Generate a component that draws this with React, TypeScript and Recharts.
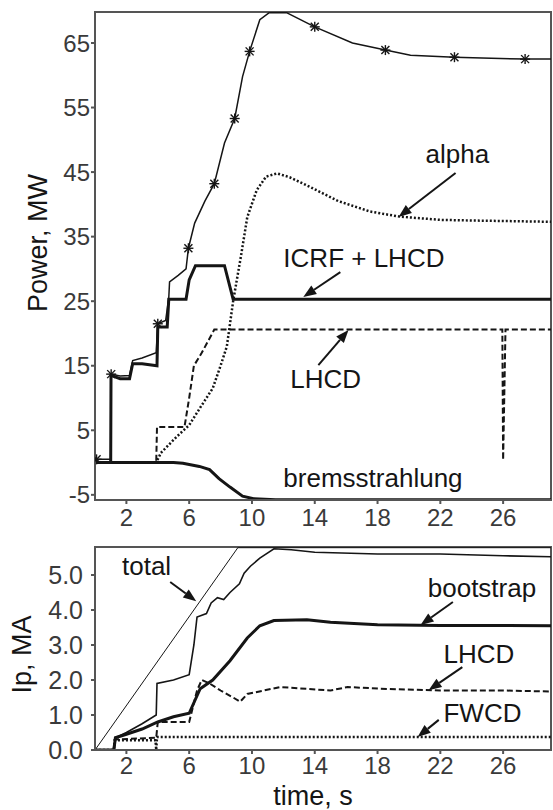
import { LineChart, Line, XAxis, YAxis, ReferenceArea, ReferenceLine, ReferenceDot } from 'recharts';

const TIME_TICKS = [2, 6, 10, 14, 18, 22, 26];
const POWER_TICKS = [-5, 5, 15, 25, 35, 45, 55, 65];
const IP_TICKS = [0, 1, 2, 3, 4, 5];

// upper panel, power in MW vs time in s
const totalT = [0.1, 1.0, 1.03, 1.6, 2.2, 2.4, 3.0, 3.9, 4.0, 4.5, 4.7, 4.75, 5.3, 5.8, 5.95, 6.35, 7.0, 7.6, 8.25, 8.9, 9.4, 9.85, 10.5, 11.1, 12.2, 14.0, 16.4, 18.5, 20.1, 22.9, 27.4, 29.05];
const totalP = [0.5, 0.5, 13.7, 13.4, 13.5, 15.8, 16.2, 17.0, 21.5, 22.0, 25.5, 28.0, 29.0, 30.0, 33.2, 37.1, 40.5, 43.2, 49.5, 53.3, 59.8, 63.7, 68.6, 69.7, 69.7, 67.5, 65.0, 63.9, 63.1, 62.8, 62.5, 62.5];
const totalMarkT = [0.1, 1.03, 4.0, 5.95, 7.6, 8.9, 9.85, 14.0, 18.5, 22.9, 27.4];

const icrfT = [0, 1.0, 1.02, 1.6, 2.2, 2.4, 3.0, 3.95, 4.0, 4.6, 4.7, 5.8, 6.0, 6.4, 8.25, 8.8, 29.05];
const icrfP = [0, 0, 13.5, 13.0, 13.0, 15.3, 15.3, 15.0, 21.0, 21.0, 25.3, 25.3, 28.3, 30.5, 30.5, 25.3, 25.3];

const lhPowT = [0, 3.9, 3.95, 5.7, 6.0, 6.3, 6.8, 7.6, 25.95, 26.0, 26.15, 29.05];
const lhPowP = [0, 0, 5.5, 5.5, 10, 15, 17, 20.6, 20.6, 0.4, 20.6, 20.6];

const alphaT = [0, 3.9, 4.2, 5.2, 6.0, 6.7, 7.5, 8.0, 8.4, 8.8, 9.3, 9.7, 10.3, 10.9, 11.6, 12.4, 13.7, 15.5, 17.5, 19.4, 22.0, 24.0, 29.05];
const alphaP = [0, 0, 1.5, 4.0, 5.8, 8.5, 11.5, 15.0, 18.0, 25.0, 32.0, 38.0, 42.2, 44.3, 44.8, 44.2, 42.7, 40.5, 38.9, 38.1, 37.6, 37.5, 37.3];

const bremT = [0, 5.0, 5.6, 6.65, 7.3, 7.9, 8.6, 9.4, 10.1, 11.5, 29.05];
const bremP = [0, 0, -0.1, -0.6, -1.1, -2.5, -3.8, -5.2, -5.6, -5.75, -5.75];

// lower panel, plasma current in MA vs time in s
const ipTotT = [0, 9.1, 29.05];
const ipTotI = [0, 5.78, 5.78];

const ipSumT = [0, 1.2, 1.3, 2.0, 3.0, 3.9, 3.95, 5.0, 6.0, 6.3, 6.5, 7.1, 7.4, 7.8, 8.2, 8.6, 9.2, 9.5, 9.9, 10.5, 11.4, 12.5, 14, 18, 22, 26, 29.05];
const ipSumI = [0, 0, 0.35, 0.5, 0.75, 1.0, 1.9, 2.0, 2.15, 3.0, 3.8, 3.9, 4.2, 4.35, 4.3, 4.5, 4.75, 5.05, 5.25, 5.48, 5.75, 5.72, 5.65, 5.6, 5.6, 5.55, 5.52];

const bootT = [0, 1.2, 1.3, 2, 3, 4, 5, 6, 6.7, 7.5, 8.6, 9.7, 10.5, 11.4, 13.5, 15, 18, 22, 29.05];
const bootI = [0, 0, 0.35, 0.45, 0.6, 0.8, 0.95, 1.05, 1.75, 2.0, 2.55, 3.2, 3.55, 3.7, 3.72, 3.65, 3.58, 3.56, 3.55];

const lhCurT = [0, 1.2, 1.3, 3.9, 4.0, 6.0, 6.5, 6.8, 7.3, 8.0, 8.8, 9.25, 9.7, 11.8, 15, 16.1, 18.2, 22, 26, 29.05];
const lhCurI = [0, 0, 0.3, 0.35, 0.8, 0.8, 1.7, 2.0, 1.9, 1.7, 1.5, 1.38, 1.6, 1.8, 1.7, 1.8, 1.75, 1.7, 1.7, 1.67];

const fwT = [0, 1.2, 1.25, 3.85, 3.9, 3.95, 29.05];
const fwI = [0, 0, 0.28, 0.28, 0, 0.37, 0.37];

const T_MAX = 29.05;
const P_DOMAIN: [number, number] = [-5.8, 69.8];
const I_DOMAIN: [number, number] = [0, 5.8];

const FONT = '"Liberation Sans", Arial, sans-serif';
const INK = '#151515';
const FRAME = '#555';

const zip = (t: number[], y: number[]) => t.map((v, i) => ({ t: v, y: y[i] }));

// annotation labels and arrows, in data units
const powerNotes = [
  { text: 'alpha', t: 21.06, y: 46.4 },
  { text: 'ICRF + LHCD', t: 12.0, y: 30.3 },
  { text: 'LHCD', t: 12.44, y: 11.55 },
  { text: 'bremsstrahlung', t: 12.0, y: -3.79 },
];
const powerArrows = [
  { from: [22.97, 44.86], to: [19.34, 38.04] },
  { from: [15.63, 29.5], to: [13.27, 25.65] },
  { from: [14.23, 15.1], to: [16.15, 20.54] },
];
const ipNotes = [
  { text: 'total', t: 1.72, y: 5.0 },
  { text: 'bootstrap', t: 21.2, y: 4.37 },
  { text: 'LHCD', t: 22.2, y: 2.49 },
  { text: 'FWCD', t: 22.2, y: 0.8 },
];
const ipArrows = [
  { from: [4.79, 4.8], to: [6.45, 4.25] },
  { from: [22.8, 4.23], to: [20.74, 3.57] },
  { from: [23.4, 2.37], to: [21.25, 1.71] },
  { from: [21.9, 0.86], to: [20.55, 0.37] },
];

const Arrow = (props: any) => {
  const { x1, y1, x2, y2 } = props;
  const a = Math.atan2(y2 - y1, x2 - x1);
  const L = 13;
  const W = 5;
  const bx = x2 - L * Math.cos(a);
  const by = y2 - L * Math.sin(a);
  const px = -Math.sin(a) * W;
  const py = Math.cos(a) * W;
  return (
    <g>
      <line x1={x1} y1={y1} x2={bx} y2={by} stroke={INK} strokeWidth={2} />
      <polygon points={`${x2},${y2} ${bx + px},${by + py} ${bx - px},${by - py}`} fill={INK} />
    </g>
  );
};

const Star = ({ cx, cy }: { cx: number; cy: number }) => (
  <g stroke={INK} strokeWidth={1.4}>
    <line x1={cx - 5} y1={cy} x2={cx + 5} y2={cy} />
    <line x1={cx} y1={cy - 5} x2={cx} y2={cy + 5} />
    <line x1={cx - 4} y1={cy - 4} x2={cx + 4} y2={cy + 4} />
    <line x1={cx - 4} y1={cy + 4} x2={cx + 4} y2={cy - 4} />
  </g>
);

const YTitle = (props: any) => {
  const { viewBox, text, titleX, shiftY } = props;
  const cy = viewBox.y + viewBox.height / 2 + shiftY;
  return (
    <text
      x={titleX}
      y={cy}
      transform={`rotate(-90 ${titleX} ${cy})`}
      textAnchor="middle"
      dominantBaseline="central"
      fontFamily={FONT}
      fontSize={27}
      fill={INK}
    >
      {text}
    </text>
  );
};

const note = (n: { text: string; t: number; y: number }) => (
  <ReferenceDot
    key={n.text + n.t}
    x={n.t}
    y={n.y}
    r={0}
    ifOverflow="visible"
    shape={(p: any) => (
      <text x={p.cx} y={p.cy} fontFamily={FONT} fontSize={26} fill={INK}>
        {n.text}
      </text>
    )}
  />
);

const arrow = (a: { from: number[]; to: number[] }, i: number) => (
  <ReferenceLine
    key={'arr' + i}
    segment={[
      { x: a.from[0], y: a.from[1] },
      { x: a.to[0], y: a.to[1] },
    ]}
    ifOverflow="visible"
    shape={Arrow}
  />
);

const tickStyle = { fontFamily: FONT, fontSize: 24, fill: '#3a3a3a' };

export default function App() {
  return (
    <div style={{ position: 'absolute', left: 0, top: 0, width: 553, height: 810, background: '#fff' }}>
      <LineChart width={553} height={535} margin={{ top: 12, right: 2, bottom: 0, left: 0 }}>
        <XAxis
          type="number"
          dataKey="t"
          domain={[0, T_MAX]}
          ticks={TIME_TICKS}
          allowDataOverflow
          height={35}
          tickSize={4}
          tickMargin={5}
          tick={tickStyle}
          stroke={FRAME}
          strokeWidth={2}
        />
        <YAxis
          type="number"
          domain={P_DOMAIN}
          ticks={POWER_TICKS}
          allowDataOverflow
          width={95}
          tickSize={4}
          tickMargin={1}
          tick={tickStyle}
          stroke={FRAME}
          strokeWidth={2}
          label={<YTitle text="Power, MW" titleX={38} shiftY={-13} />}
        />
        <ReferenceArea x1={0} x2={T_MAX} y1={P_DOMAIN[0]} y2={P_DOMAIN[1]} fill="none" stroke={FRAME} strokeWidth={2} />
        <Line data={zip(bremT, bremP)} dataKey="y" stroke={INK} strokeWidth={3} dot={false} isAnimationActive={false} />
        <Line data={zip(alphaT, alphaP)} dataKey="y" stroke={INK} strokeWidth={2.5} strokeDasharray="2 2" dot={false} isAnimationActive={false} />
        <Line data={zip(lhPowT, lhPowP)} dataKey="y" stroke={INK} strokeWidth={2} strokeDasharray="6 3" dot={false} isAnimationActive={false} />
        <Line data={zip(icrfT, icrfP)} dataKey="y" stroke={INK} strokeWidth={3} dot={false} isAnimationActive={false} />
        <Line
          data={zip(totalT, totalP)}
          dataKey="y"
          stroke={INK}
          strokeWidth={1.5}
          isAnimationActive={false}
          dot={(p: any) =>
            totalMarkT.includes(p.payload.t) ? <Star key={'s' + p.index} cx={p.cx} cy={p.cy} /> : <g key={'s' + p.index} />
          }
        />
        {powerArrows.map(arrow)}
        {powerNotes.map(note)}
      </LineChart>
      <LineChart width={553} height={275} margin={{ top: 12, right: 2, bottom: 0, left: 0 }}>
        <XAxis
          type="number"
          dataKey="t"
          domain={[0, T_MAX]}
          ticks={TIME_TICKS}
          allowDataOverflow
          height={60}
          tickSize={4}
          tickMargin={3}
          tick={tickStyle}
          stroke={FRAME}
          strokeWidth={2}
          label={{ value: 'time, s', position: 'insideBottom', offset: 5, dx: -10, fontFamily: FONT, fontSize: 27, fill: INK }}
        />
        <YAxis
          type="number"
          domain={I_DOMAIN}
          ticks={IP_TICKS}
          allowDataOverflow
          width={95}
          tickSize={4}
          tickMargin={8}
          tick={{ ...tickStyle, fontSize: 25 }}
          tickFormatter={(v: number) => v.toFixed(1)}
          stroke={FRAME}
          strokeWidth={2}
          label={<YTitle text="Ip, MA" titleX={22} shiftY={6} />}
        />
        <ReferenceArea x1={0} x2={T_MAX} y1={I_DOMAIN[0]} y2={I_DOMAIN[1]} fill="none" stroke={FRAME} strokeWidth={2} />
        <Line data={zip(fwT, fwI)} dataKey="y" stroke={INK} strokeWidth={2.5} strokeDasharray="2 2" dot={false} isAnimationActive={false} />
        <Line data={zip(lhCurT, lhCurI)} dataKey="y" stroke={INK} strokeWidth={2} strokeDasharray="6 3" dot={false} isAnimationActive={false} />
        <Line data={zip(bootT, bootI)} dataKey="y" stroke={INK} strokeWidth={3} dot={false} isAnimationActive={false} />
        <Line data={zip(ipSumT, ipSumI)} dataKey="y" stroke={INK} strokeWidth={1.6} dot={false} isAnimationActive={false} />
        <Line data={zip(ipTotT, ipTotI)} dataKey="y" stroke={INK} strokeWidth={1} dot={false} isAnimationActive={false} />
        {ipArrows.map(arrow)}
        {ipNotes.map(note)}
      </LineChart>
    </div>
  );
}
